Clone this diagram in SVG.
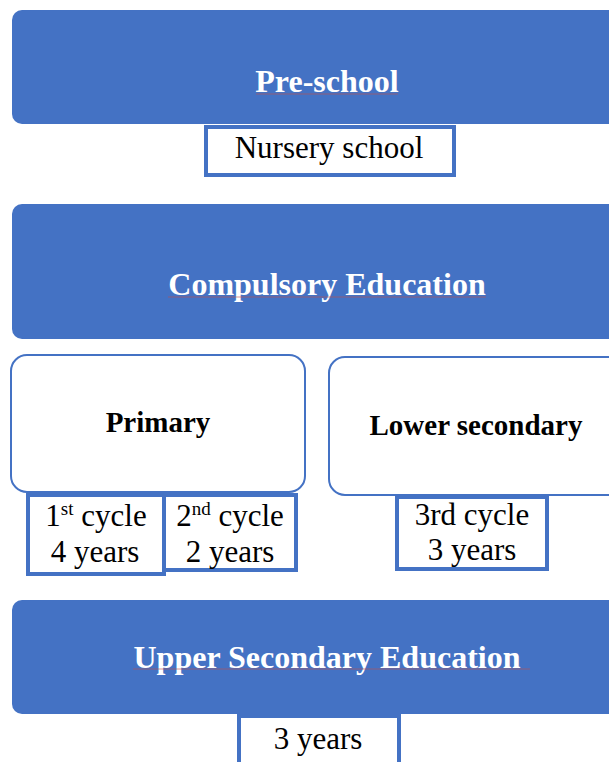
<svg xmlns="http://www.w3.org/2000/svg" width="609" height="762" viewBox="0 0 609 762">
<style>
.band{fill:#4472C4;}
.head{font-weight:bold;font-size:32px;fill:#ffffff;text-anchor:middle;}
.sub{fill:#ffffff;stroke:#4472C4;stroke-width:2;}
.subt{font-weight:bold;font-size:29px;fill:#000;text-anchor:middle;}
.box{fill:#ffffff;stroke:#4472C4;stroke-width:4;}
.t{font-size:31px;fill:#000;text-anchor:middle;}
.sup{font-size:19px;}
.sp{stroke:#c0504d;stroke-width:1;opacity:0.6;}
</style>
<rect width="609" height="762" fill="#ffffff"/>
<g font-family="'Liberation Serif', 'Times New Roman', 'DejaVu Serif', serif">
<g id="preschool">
<rect class="band" x="12" y="10" width="620" height="114" rx="10"/>
<text class="head" x="327" y="92">Pre-school</text>
<line class="sp" x1="256" y1="94" x2="398" y2="94"/>
</g>
<g id="nursery">
<rect class="box" x="206" y="127" width="248" height="48"/>
<text class="t" x="329" y="158">Nursery school</text>
</g>
<g id="compulsory">
<rect class="band" x="12" y="204" width="620" height="135" rx="10"/>
<text class="head" x="327" y="295">Compulsory Education</text>
<line class="sp" x1="168" y1="297" x2="486" y2="297"/>
</g>
<g id="primary">
<rect class="sub" x="11" y="355" width="294" height="137" rx="16"/>
<text class="subt" x="158" y="432">Primary</text>
</g>
<g id="lowersecondary">
<rect class="sub" x="329" y="357" width="300" height="138" rx="16"/>
<text class="subt" x="476" y="435">Lower secondary</text>
</g>
<g id="cycle1">
<rect class="box" x="28" y="495" width="136" height="79"/>
<text class="t" x="96" y="526">1<tspan class="sup" dy="-11">st</tspan><tspan dy="11"> cycle</tspan></text>
<text class="t" x="95" y="562">4 years</text>
</g>
<g id="cycle2">
<rect class="box" x="164" y="495" width="132" height="75"/>
<text class="t" x="230" y="526">2<tspan class="sup" dy="-11">nd</tspan><tspan dy="11"> cycle</tspan></text>
<text class="t" x="230" y="562">2 years</text>
</g>
<g id="cycle3">
<rect class="box" x="397" y="497" width="150" height="72"/>
<text class="t" x="472" y="525" font-size="29">3rd cycle</text>
<text class="t" x="472" y="560" font-size="29">3 years</text>
</g>
<g id="uppersecondary">
<rect class="band" x="12" y="600" width="620" height="114" rx="10"/>
<text class="head" x="327" y="668">Upper Secondary Education</text>
<line class="sp" x1="133" y1="669" x2="530" y2="669"/>
</g>
<g id="upper3">
<rect class="box" x="239" y="716" width="160" height="60"/>
<text class="t" x="318" y="749">3 years</text>
</g>
</g>
<g id="connectors"></g>
</svg>
